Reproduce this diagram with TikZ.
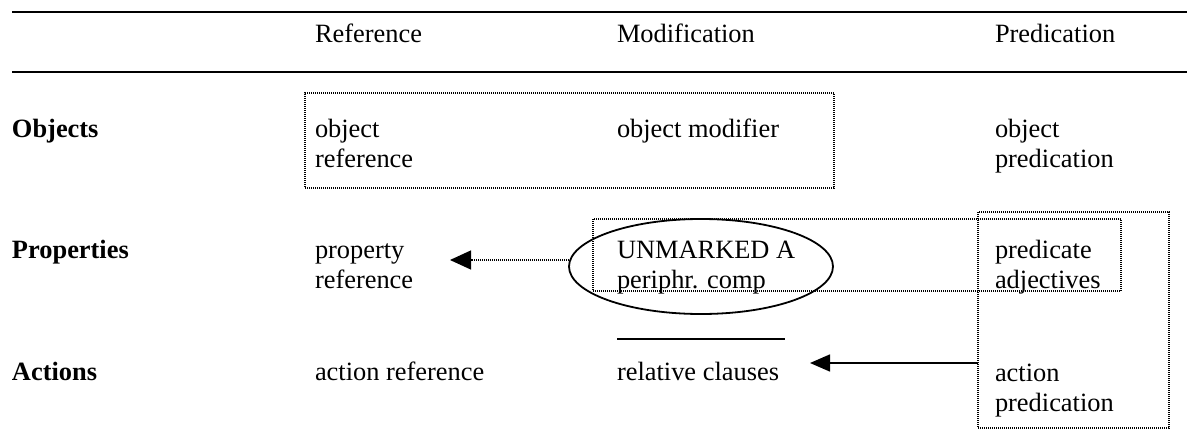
\documentclass[tikz,border=0pt]{standalone}
\usepackage{fontspec}
\setmainfont{Liberation Serif}
\usetikzlibrary{arrows.meta,shapes.geometric}
\newcommand\twoline[2]{\begin{tabular}[t]{@{}l@{}}#1\\#2\end{tabular}}
\begin{document}
\begin{tikzpicture}[x=1pt,y=-1pt,
  every node/.style={inner sep=0pt, outer sep=0pt, font=\fontsize{26.4}{30}\selectfont},
  lbl/.style={anchor=base west},
  rowlbl/.style={anchor=base west, font=\fontsize{26.4}{30}\selectfont\bfseries},
  rulestyle/.style={line width=2.2pt},
  dotbox/.style={draw, line width=1.2pt, dash pattern=on 1pt off 1pt, rectangle},
  dotline/.style={line width=1.2pt, dash pattern=on 1pt off 1pt},
  tip/.style={-{Triangle[length=21pt,width=19pt]}}
]
\useasboundingbox (0,0) rectangle (1187,436);

% rules
\draw[rulestyle] (12,12) -- (1187,12);
\draw[rulestyle] (12,72) -- (1187,72);

% header
\node[lbl] (hRef) at (315,43) {Reference};
\node[lbl] (hMod) at (617,43) {Modification};
\node[lbl] (hPred) at (995,43) {Predication};

% row labels
\node[rowlbl] (rObj) at (12,137) {Objects};
\node[rowlbl] (rProp) at (12,258) {Properties};
\node[rowlbl] (rAct) at (12,380) {Actions};

% boxes
\node[dotbox, minimum width=529pt, minimum height=95pt] (objbox) at (569.5,140.5) {};
\node[dotbox, minimum width=528pt, minimum height=72pt] (propbox) at (857,255) {};
\node[dotbox, minimum width=191pt, minimum height=216pt] (predbox) at (1073.5,320) {};

% ellipse
\node[ellipse, draw, line width=1.8pt, minimum width=264pt, minimum height=95pt] (ell) at (701,266.5) {};

% cells
\node[lbl] (objref) at (315,137) {\twoline{object}{reference}};
\node[lbl] (objmod) at (617,137) {object modifier};
\node[lbl] (objpred) at (995,137) {\twoline{object}{predication}};

\node[lbl] (propref) at (315,258) {\twoline{property}{reference}};
\node[lbl] (unmarked) at (617,258) {\twoline{UNMARKED A}{periphr. comp}};
\node[lbl] (predadj) at (995,258) {\twoline{predicate}{adjectives}};

\node[lbl] (actref) at (315,380) {action reference};
\node[lbl] (relcl) at (617,380) {relative clauses};
\node[lbl] (actpred) at (995,381) {\twoline{action}{predication}};

% underline above relative clauses
\draw[line width=2pt] (617,339) -- (785,339);

% arrows
\coordinate (ptip) at (450,260);
\draw[dotline, tip] (ell.west |- ptip) -- (ptip);
\coordinate (atip) at (810,363);
\draw[line width=1.5pt, -{Triangle[length=20pt,width=17pt]}] (predbox.west |- atip) -- (atip);
\end{tikzpicture}
\end{document}
